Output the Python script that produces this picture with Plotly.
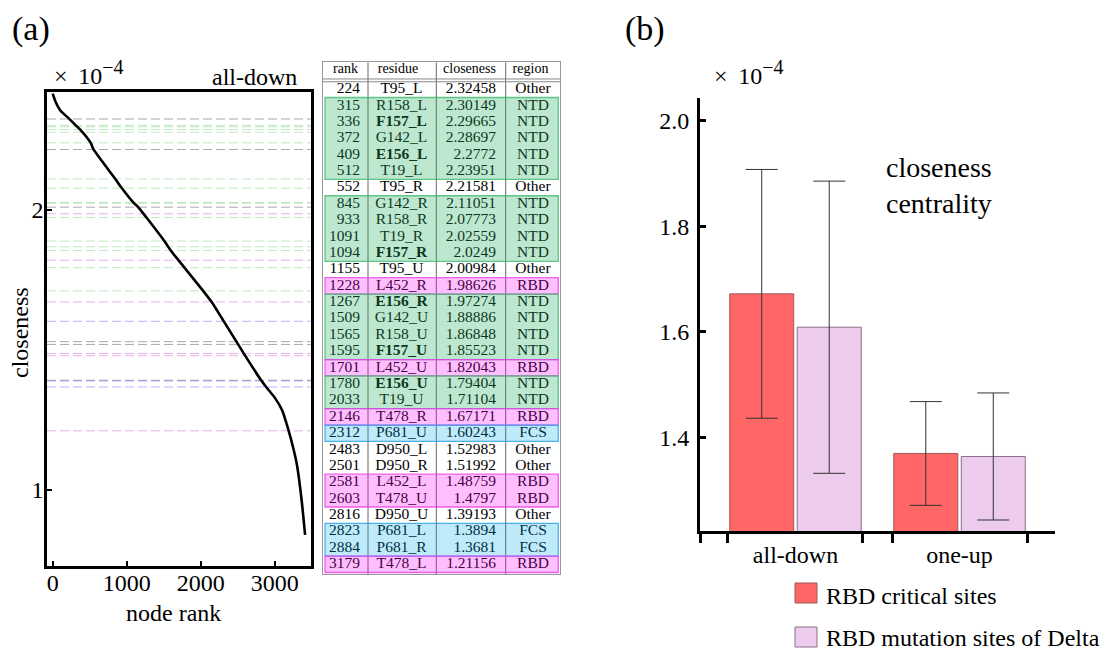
import plotly.graph_objects as go

# The page is shown with an 8px body margin, so the figure is drawn 8px smaller
# and every reference pixel position is shifted by that offset.
W, H = 1111, 650
OFF = 8
FW, FH = W - OFF, H - OFF

# ---------------- data: panel (a) table ----------------
ranks = [224, 315, 336, 372, 409, 512, 552, 845, 933, 1091, 1094, 1155, 1228, 1267, 1509,
         1565, 1595, 1701, 1780, 2033, 2146, 2312, 2483, 2501, 2581, 2603, 2816, 2823, 2884, 3179]
residues = ["T95_L", "R158_L", "F157_L", "G142_L", "E156_L", "T19_L", "T95_R", "G142_R", "R158_R",
            "T19_R", "F157_R", "T95_U", "L452_R", "E156_R", "G142_U", "R158_U", "F157_U", "L452_U",
            "E156_U", "T19_U", "T478_R", "P681_U", "D950_L", "D950_R", "L452_L", "T478_U", "D950_U",
            "P681_L", "P681_R", "T478_L"]
closeness = [2.32458, 2.30149, 2.29665, 2.28697, 2.2772, 2.23951, 2.21581, 2.11051, 2.07773,
             2.02559, 2.0249, 2.00984, 1.98626, 1.97274, 1.88886, 1.86848, 1.85523, 1.82043,
             1.79404, 1.71104, 1.67171, 1.60243, 1.52983, 1.51992, 1.48759, 1.4797, 1.39193,
             1.3894, 1.3681, 1.21156]
regions = ["Other", "NTD", "NTD", "NTD", "NTD", "NTD", "Other", "NTD", "NTD", "NTD", "NTD", "Other",
           "RBD", "NTD", "NTD", "NTD", "NTD", "RBD", "NTD", "NTD", "RBD", "FCS", "Other", "Other",
           "RBD", "RBD", "Other", "FCS", "FCS", "RBD"]
bold_sites = ["F157", "E156"]
table_header = ["rank", "residue", "closeness", "region"]

# sorted closeness curve, x1e-4
curve_rank = [0, 40, 100, 224, 315, 372, 512, 552, 845, 933, 1091, 1155, 1228, 1267, 1509, 1595,
              1701, 1780, 2033, 2146, 2312, 2483, 2581, 2816, 2884, 3000, 3100, 3179, 3250, 3300,
              3365, 3410]
curve_value = [2.415, 2.385, 2.356, 2.325, 2.301, 2.287, 2.24, 2.216, 2.111, 2.078, 2.026, 2.01,
               1.986, 1.973, 1.889, 1.855, 1.82, 1.794, 1.711, 1.672, 1.602, 1.53, 1.488, 1.392,
               1.368, 1.33, 1.285, 1.22, 1.15, 1.09, 0.96, 0.84]

# ---------------- data: panel (b) ----------------
groups = ["all-down", "one-up"]
critical_mean = [1.672, 1.3705]
critical_err = [0.235, 0.098]
delta_mean = [1.609, 1.3648]
delta_err = [0.276, 0.12]
legend_names = ["RBD critical sites", "RBD mutation sites of Delta"]

# ---------------- styles ----------------
FONT = "Liberation Serif"
line_col = {"Other": "rgba(110,110,110,0.6)", "NTD": "rgba(90,200,90,0.38)",
            "RBD": "rgba(205,80,205,0.45)", "FCS": "rgba(90,90,255,0.45)"}
box_fill = {"NTD": "rgba(40,175,95,0.30)", "RBD": "rgba(255,0,255,0.25)",
            "FCS": "rgba(0,170,230,0.25)"}
box_line = {"NTD": "rgba(60,185,110,0.8)", "RBD": "rgba(235,60,235,0.8)",
            "FCS": "rgba(40,160,230,0.8)"}
red, red_edge = "#ff6666", "#a05858"
pink, pink_edge = "#eccbec", "#8a7088"


def px(x):
    return (x - OFF) / FW


def py(y):
    return 1 - (y - OFF) / FH


fig = go.Figure()

# ---- panel (a): curve ----
fig.add_trace(go.Scatter(x=curve_rank, y=curve_value, mode="lines",
                         line=dict(color="black", width=2.6, shape="spline", smoothing=0.6),
                         xaxis="x", yaxis="y", showlegend=False, hoverinfo="skip"))

shapes = []
for v, r in zip(closeness, regions):
    shapes.append(dict(type="line", xref="x domain", yref="y", x0=0, x1=1, y0=v, y1=v,
                       line=dict(color=line_col[r], width=1, dash="9px,4px"), layer="below"))

# ---- table (axis x3 in px-like units, y3 in row units) ----
nrow = len(ranks)
rows = list(range(nrow))
res_txt = [("<b>%s</b>" % s) if s.split("_")[0] in bold_sites else s for s in residues]
txt_font = dict(family=FONT, size=15.5, color="black")
fig.add_trace(go.Scatter(x=[37] * nrow, y=rows, text=[str(r) for r in ranks], mode="text",
                         textposition="middle left", textfont=txt_font, xaxis="x3", yaxis="y3",
                         showlegend=False, hoverinfo="skip"))
fig.add_trace(go.Scatter(x=[78.5] * nrow, y=rows, text=res_txt, mode="text", textposition="middle center",
                         textfont=txt_font, xaxis="x3", yaxis="y3", showlegend=False, hoverinfo="skip"))
fig.add_trace(go.Scatter(x=[173] * nrow, y=rows, text=[str(c) for c in closeness], mode="text",
                         textposition="middle left", textfont=txt_font, xaxis="x3", yaxis="y3",
                         showlegend=False, hoverinfo="skip"))
fig.add_trace(go.Scatter(x=[210] * nrow, y=rows, text=regions, mode="text", textposition="middle center",
                         textfont=txt_font, xaxis="x3", yaxis="y3", showlegend=False, hoverinfo="skip"))
fig.add_trace(go.Scatter(x=[22.5, 75, 146.5, 207.5], y=[-1.18] * 4, text=table_header, mode="text",
                         textposition="middle center", textfont=dict(family=FONT, size=14, color="black"),
                         xaxis="x3", yaxis="y3", showlegend=False, hoverinfo="skip"))

# column separators and header double rule
for xs in [45, 113.3, 182.7]:
    shapes.append(dict(type="line", xref="x3", yref="y3", x0=xs, x1=xs, y0=-1.648, y1=29.61,
                       line=dict(color="#666", width=1), layer="above"))
for yh in [-0.63, -0.46]:
    shapes.append(dict(type="line", xref="x3", yref="y3", x0=0, x1=237.3, y0=yh, y1=yh,
                       line=dict(color="#888", width=1), layer="above"))

# colored region group boxes (contiguous rows)
i = 0
while i < nrow:
    j = i
    while j + 1 < nrow and regions[j + 1] == regions[i]:
        j += 1
    r = regions[i]
    if r in box_fill:
        shapes.append(dict(type="rect", xref="x3", yref="y3", x0=2, x1=235.3, y0=i - 0.5, y1=j + 0.5,
                           fillcolor=box_fill[r], line=dict(color=box_line[r], width=1.3), layer="above"))
    i = j + 1

# ---- panel (b): bars ----
fig.add_trace(go.Bar(x=[0, 1], y=critical_mean, name=legend_names[0],
                     marker=dict(color=red, line=dict(color=red_edge, width=1)),
                     error_y=dict(type="data", array=critical_err, color="#333", thickness=1, width=16),
                     xaxis="x2", yaxis="y2", showlegend=False, hoverinfo="skip"))
fig.add_trace(go.Bar(x=[0, 1], y=delta_mean, name=legend_names[1],
                     marker=dict(color=pink, line=dict(color=pink_edge, width=1)),
                     error_y=dict(type="data", array=delta_err, color="#333", thickness=1, width=16),
                     xaxis="x2", yaxis="y2", showlegend=False, hoverinfo="skip"))

bargap = 0.177
half = (1 - bargap) / 2
xr2 = [-0.582, 1.582]
edge_ticks = [xr2[0]] + [g + s * half for g in range(len(groups)) for s in (-1, 1)]

# manual legend
for k, (fc, ec) in enumerate([(red, red_edge), (pink, pink_edge)]):
    yc = 593 + 44 * k
    shapes.append(dict(type="rect", xref="paper", yref="paper", x0=px(795), x1=px(817),
                       y0=py(yc - 10), y1=py(yc + 10), fillcolor=fc, line=dict(color=ec, width=1)))

ann = []


def add_text(text, x, y, size, xanchor="left", yanchor="middle", angle=0, align="left"):
    ann.append(dict(text=text, x=px(x), y=py(y), xref="paper", yref="paper", showarrow=False,
                    xanchor=xanchor, yanchor=yanchor, textangle=angle, align=align,
                    font=dict(family=FONT, size=size, color="black")))


sci = "×\u00a0\u200910<sup><span style='font-size:20px'>−4</span></sup>"
add_text("(a)", 10, 8.5, 34, yanchor="top")
add_text("(b)", 623, 8.5, 34, yanchor="top")
add_text(sci, 52, 73, 24)
add_text("all-down", 299, 77, 24, xanchor="right")
add_text("closeness", 20, 333, 24, xanchor="center", angle=-90)
add_text("node rank", 173, 613, 24, xanchor="center")
add_text(sci, 712, 72, 24)
add_text("closeness<br>centrality", 884, 186, 28)
add_text(legend_names[0], 824, 596, 24)
add_text(legend_names[1], 824, 638, 24)

axfont = dict(family=FONT, size=24, color="black")
fig.update_layout(
    width=FW, height=FH, margin=dict(l=0, r=0, t=0, b=0),
    paper_bgcolor="white", plot_bgcolor="rgba(0,0,0,0)",
    bargap=bargap, bargroupgap=0.052, barmode="group",
    shapes=shapes, annotations=ann,
    xaxis=dict(domain=[px(47), px(311)], range=[-77, 3490], anchor="y", showline=True, mirror=True,
               linecolor="black", linewidth=2.5, ticks="inside", ticklen=5, tickwidth=2, tickcolor="black",
               tickvals=[0, 1000, 2000, 3000], tickfont=axfont, ticklabelstandoff=-6,
               showgrid=False, zeroline=False),
    yaxis=dict(domain=[py(565.7), py(92)], range=[0.73, 2.421], anchor="x", showline=True, mirror=True,
               linecolor="black", linewidth=2.5, ticks="inside", ticklen=5, tickwidth=2, tickcolor="black",
               tickvals=[1, 2], tickfont=axfont, ticklabelstandoff=-4, showgrid=False, zeroline=False),
    xaxis2=dict(domain=[px(700), px(1055)], range=xr2, anchor="y2", showline=True, linecolor="black",
                linewidth=3, ticks="", tickvals=[0, 1], ticktext=groups, tickfont=axfont,
                showgrid=False, zeroline=False,
                minor=dict(tickmode="array", tickvals=edge_ticks, ticks="outside", ticklen=9, tickwidth=2.5,
                           tickcolor="black", showgrid=False)),
    yaxis2=dict(domain=[py(531), py(98)], range=[1.224, 2.042], anchor="x2", showline=True, linecolor="black",
                linewidth=3, ticks="inside", ticklen=6, tickwidth=2.5, tickcolor="black",
                tickvals=[1.4, 1.6, 1.8, 2.0], tickformat=".1f", tickfont=axfont, ticklabelstandoff=3,
                showgrid=False, zeroline=False),
    xaxis3=dict(domain=[px(323), px(560.3)], range=[0, 237.3], anchor="y3", showline=True, mirror=True,
                linecolor="#999", linewidth=1, showticklabels=False, ticks="", showgrid=False, zeroline=False),
    yaxis3=dict(domain=[py(574.3), py(62.3)], range=[29.61, -1.648], anchor="x3", showline=True, mirror=True,
                linecolor="#999", linewidth=1, showticklabels=False, ticks="", showgrid=False, zeroline=False),
)

fig.write_html("out.html")
